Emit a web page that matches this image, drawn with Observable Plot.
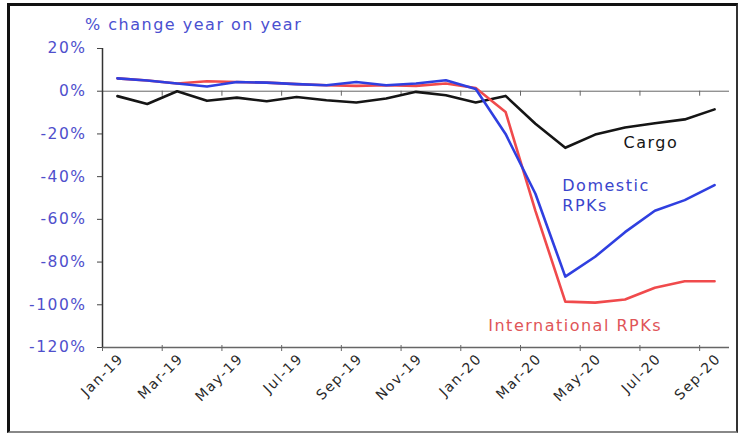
<!DOCTYPE html>
<html><head><meta charset="utf-8">
<script src="https://cdn.jsdelivr.net/npm/d3@7"></script>
<script src="https://cdn.jsdelivr.net/npm/@observablehq/plot@0.6"></script>
<style>
body{margin:0;background:#fff;}
#wrap{position:relative;width:742px;height:435px;overflow:hidden;font-family:"DejaVu Sans",sans-serif;background:#fff;}
#frame{position:absolute;left:7px;top:3px;width:731px;height:430px;box-sizing:border-box;border-top:3px solid #111;border-left:3px solid #111;border-right:2px solid #333;border-bottom:2px solid #888;pointer-events:none;}
#title{position:absolute;left:85px;top:15px;color:#4b50d0;font-size:16px;letter-spacing:1.5px;white-space:nowrap;}
#chart{position:absolute;left:0;top:0;}
</style>
</head><body>
<div id="wrap"><div id="chart"></div><div id="title">% change year on year</div><div id="frame"></div></div>
<script>
const months = ["Jan-19","Feb-19","Mar-19","Apr-19","May-19","Jun-19","Jul-19","Aug-19","Sep-19","Oct-19","Nov-19","Dec-19",
                "Jan-20","Feb-20","Mar-20","Apr-20","May-20","Jun-20","Jul-20","Aug-20","Sep-20"];
const cargo = [-2.3,-6,0,-4.5,-3,-4.7,-2.7,-4.2,-5.3,-3.4,-0.3,-1.9,
               -5.3,-2.2,-15.2,-26.5,-20.3,-17,-15,-13.2,-8.5];
const domestic = [6,5,3.6,2.2,4.3,4,3.3,2.8,4.3,2.8,3.6,5.1,
                  1,-20,-48,-86.8,-77.5,-66,-56,-51,-44];
const international = [6,5,3.6,4.7,4.3,4,3.3,2.8,2.5,2.8,2.5,3.6,
                       1.5,-9.7,-56,-98.5,-99,-97.5,-92,-89,-89];
const yTicks = [20,0,-20,-40,-60,-80,-100,-120];
const seriesLabels = ["Cargo","Domestic\nRPKs","International RPKs"];

const table = months.map((m,i)=>({i, m, cargo:cargo[i], dom:domestic[i], intl:international[i]}));
const labelled = table.filter(d=>d.i%2===0);
const tickPos = d3.range(-0.5, months.length - 1, 2);

const plot = Plot.plot({
  width:742, height:435,
  marginLeft:102, marginRight:13, marginTop:48, marginBottom:88,
  x:{domain:[-0.5, months.length-0.5], axis:null},
  y:{domain:[-120,20], axis:null},
  style:{fontFamily:"DejaVu Sans", background:"transparent"},
  marks:[
    Plot.ruleY([0],{stroke:"#666", strokeWidth:1}),
    Plot.ruleX(tickPos,{y1:0, y2:0, insetBottom:-5, stroke:"#666"}),
    Plot.ruleY([-120],{stroke:"#666", strokeWidth:1.5}),
    Plot.ruleX(tickPos,{y1:-120, y2:-120, insetTop:-2, insetBottom:-4, stroke:"#666"}),
    Plot.ruleX([-0.5],{y1:-120, y2:20, stroke:"#333", strokeWidth:1.5}),
    Plot.axisY({ticks:yTicks, tickFormat:d=>d+"%", tickSize:5, tickPadding:11, fontSize:15.5, stroke:"#444", fill:"#4f4fcc"}),
    Plot.text(labelled,{x:"i", frameAnchor:"bottom", text:"m", rotate:-45, textAnchor:"end", dx:7, dy:12, fontSize:14, fill:"#2a2a2a"}),
    Plot.line(table,{x:"i", y:"cargo", stroke:"#151515", strokeWidth:2.6}),
    Plot.line(table,{x:"i", y:"intl", stroke:"#f04a4c", strokeWidth:2.6}),
    Plot.line(table,{x:"i", y:"dom", stroke:"#2f3fe0", strokeWidth:2.6}),
    Plot.text([seriesLabels[0]],{x:()=>16.95, y:()=>-24.3, text:d=>d, textAnchor:"start", fontSize:16, fill:"#151515"}),
    Plot.text([seriesLabels[1]],{x:()=>14.9, y:()=>-48.6, text:d=>d, textAnchor:"start", fontSize:16, lineHeight:1.25, fill:"#3a45cc"}),
    Plot.text([seriesLabels[2]],{x:()=>12.42, y:()=>-109.8, text:d=>d, textAnchor:"start", fontSize:16, fill:"#e05558"})
  ]
});
plot.querySelectorAll("text").forEach(t=>{ t.style.letterSpacing = "1.5px"; });
document.getElementById("chart").appendChild(plot);
</script>
</body></html>
